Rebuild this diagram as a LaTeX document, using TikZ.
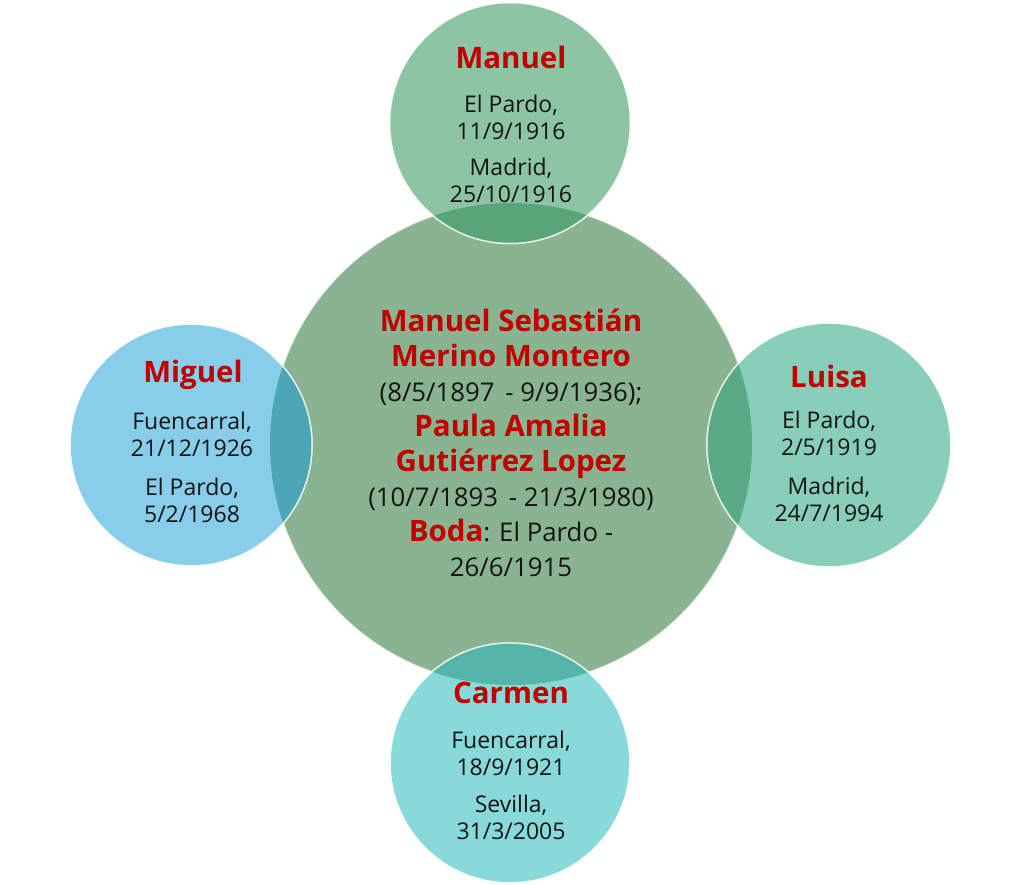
\documentclass[tikz,border=0pt]{standalone}
\usepackage{fontspec}
\setmainfont{Open Sans}
\definecolor{cmain}{RGB}{138,180,145}
\definecolor{ctop}{RGB}{140,196,164}
\definecolor{cleft}{RGB}{136,205,234}
\definecolor{cright}{RGB}{136,206,185}
\definecolor{cbot}{RGB}{136,218,218}
\definecolor{otop}{RGB}{90,164,122}
\definecolor{oleft}{RGB}{76,166,181}
\definecolor{oright}{RGB}{90,170,136}
\definecolor{obot}{RGB}{84,181,168}
\definecolor{namered}{RGB}{192,0,0}
\definecolor{txt}{RGB}{20,20,20}
\tikzset{
  bubble/.style={circle, inner sep=0pt, draw=white, draw opacity=0.7, line width=1.5pt},
  title/.style={font=\fontsize{29.5}{32}\selectfont\bfseries, text=namered},
  info/.style={font=\fontsize{23}{27}\selectfont, text=txt, align=center},
  maintxt/.style={font=\fontsize{29.5}{35}\selectfont, text=txt, align=center}
}
\newcommand{\regtxt}{\fontsize{25.8}{35}\selectfont}
\begin{document}
\begin{tikzpicture}[x=1pt,y=-1pt]
\useasboundingbox (0,0) rectangle (1023,885);
% central circle
\node[bubble, fill=cmain, minimum size=482pt] (main) at (511,444) {};
% children
\node[bubble, fill=ctop, minimum size=241pt] (top) at (510,123) {};
\node[bubble, fill=cleft, minimum size=242pt] (left) at (191,445) {};
\node[bubble, fill=cright, minimum size=244pt] (right) at (829,445) {};
\node[bubble, fill=cbot, minimum size=240pt] (bot) at (510,763) {};
% overlaps
\begin{scope}
\clip (511,444) circle (241pt);
\fill[otop] (510,123) circle (120.5pt);
\fill[oleft] (191,445) circle (121pt);
\fill[oright] (829,445) circle (122pt);
\fill[obot] (510,763) circle (120pt);
\end{scope}
\draw[white, opacity=0.7, line width=1.5pt] (510,123) circle (120.5pt);
\draw[white, opacity=0.7, line width=1.5pt] (191,445) circle (121pt);
\draw[white, opacity=0.7, line width=1.5pt] (829,445) circle (122pt);
\draw[white, opacity=0.7, line width=1.5pt] (510,763) circle (120pt);
% central text
\node[maintxt] (maintext) at (511,443) {%
{\bfseries\color{namered}Manuel Sebastián}\\
{\bfseries\color{namered}Merino Montero}\\
{\regtxt (8/5/1897\hspace{4pt} - 9/9/1936);}\\
{\bfseries\color{namered}Paula Amalia}\\
{\bfseries\color{namered}Gutiérrez Lopez}\\
{\regtxt (10/7/1893\hspace{4pt} - 21/3/1980)}\\
{\bfseries\color{namered}Boda}{\regtxt: El Pardo -}\\
{\regtxt 26/6/1915}};
% top
\node[title] (ttop) at (511,57) {Manuel};
\node[info] (itop1) at (511,117) {El Pardo,\\11/9/1916};
\node[info] (itop2) at (511,180) {Madrid,\\25/10/1916};
% left
\node[title] (tleft) at (193,375) {Miguel};
\node[info] (ileft1) at (192,434) {Fuencarral,\\21/12/1926};
\node[info] (ileft2) at (192,500) {El Pardo,\\5/2/1968};
% right
\node[title] (tright) at (829,376) {Luisa};
\node[info] (iright1) at (829,433) {El Pardo,\\2/5/1919};
\node[info] (iright2) at (829,499) {Madrid,\\24/7/1994};
% bottom
\node[title] (tbot) at (511,693) {Carmen};
\node[info] (ibot1) at (511,753) {Fuencarral,\\18/9/1921};
\node[info] (ibot2) at (511,817) {Sevilla,\\31/3/2005};
\end{tikzpicture}
\end{document}
